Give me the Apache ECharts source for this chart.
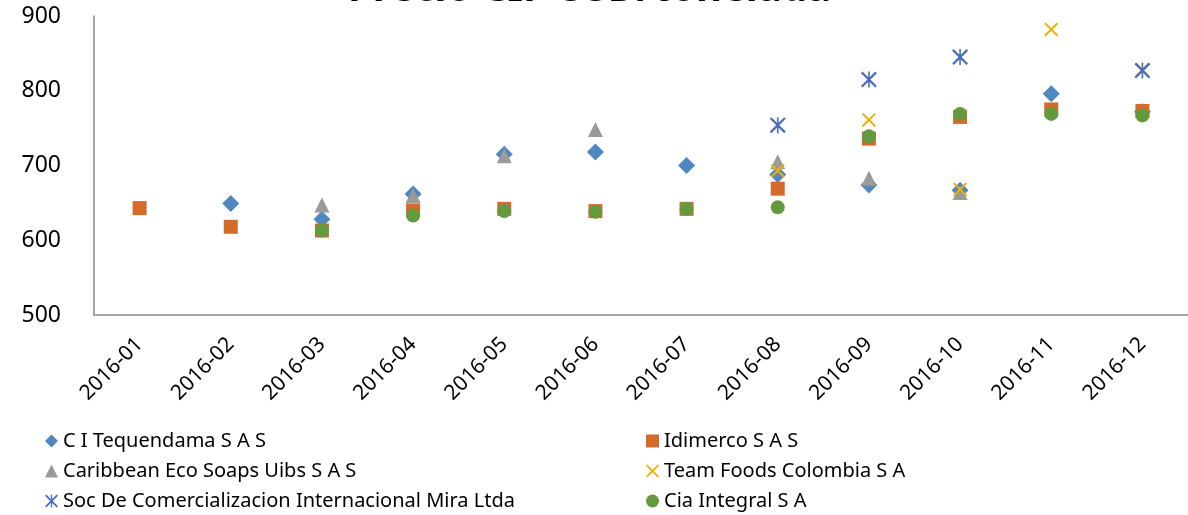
<!DOCTYPE html>
<html>
<head>
<meta charset="utf-8">
<script src="https://cdn.jsdelivr.net/npm/echarts@6/dist/echarts.min.js"></script>
<style>
  html, body { margin: 0; padding: 0; background: #fff; }
  #chart { width: 1188px; height: 515px; }
</style>
</head>
<body>
<div id="chart"></div>
<script>
// meses
const months = ['2016-01', '2016-02', '2016-03', '2016-04', '2016-05', '2016-06',
  '2016-07', '2016-08', '2016-09', '2016-10', '2016-11', '2016-12']

// precio CIF por empresa (USD/tonelada)
const tequendama = [null, 649, 628, 662, 715, 718, 700, 688, 674, 667, 796, 772]
const idimerco = [643, 618, 613, 640, 642, 639, 642, 669, 736, 765, 775, 773]
const caribbean = [null, null, 647, 660, 713, 748, null, 705, 683, 664, null, null]
const teamFoods = [null, null, null, null, null, null, null, 693, 761, 668, 882, 828]
const socMira = [null, null, null, null, null, null, null, 754, 815, 845, null, 827]
const ciaIntegral = [null, null, 613, 633, 639, 638, 642, 644, 739, 769, 769, 767]

const yTicks = [500, 600, 700, 800, 900]

const FONT = 'Noto Sans'

// simbolos X y asterisco
const xPath = 'path://M0,1L1,0L10,9L9,10ZM9,0L10,1L1,10L0,9Z'
const starPath = 'path://M0,1L1,0L10,9L9,10ZM9,0L10,1L1,10L0,9ZM4.5,0L5.5,0L5.5,10L4.5,10Z'

const chart = echarts.init(document.getElementById('chart'))

const mk = (name, data, symbol, size, color) => ({
  name,
  type: 'scatter',
  data,
  symbol,
  symbolSize: size,
  itemStyle: { color, opacity: 1 },
  emphasis: { disabled: true }
})

const legendStyle = {
  orient: 'vertical',
  top: 425,
  height: 200,
  itemWidth: 13,
  itemHeight: 13,
  itemGap: 8,
  textStyle: { fontFamily: FONT, fontSize: 20, lineHeight: 22, color: '#000' }
}

const option = {
  animation: false,
  title: {
    text: 'Precio CIF USD/tonelada',
    left: 343,
    top: -35,
    textStyle: { fontFamily: FONT, fontSize: 40, fontWeight: 'bold', color: '#000' }
  },
  grid: { left: 94, top: 16, width: 1108, height: 299 },
  xAxis: {
    type: 'category',
    data: months,
    boundaryGap: true,
    axisLine: { lineStyle: { color: '#898989', width: 1.5 } },
    axisTick: { show: false },
    axisLabel: { rotate: 45, margin: 26, fontFamily: FONT, fontSize: 21, color: '#000', interval: 0 }
  },
  yAxis: {
    type: 'value',
    min: yTicks[0],
    max: yTicks[yTicks.length - 1],
    interval: 100,
    splitLine: { show: false },
    axisLine: { show: true, lineStyle: { color: '#898989', width: 1.5 } },
    axisTick: { show: false },
    axisLabel: { margin: 33, fontFamily: FONT, fontSize: 23, color: '#000' }
  },
  legend: [
    Object.assign({
      data: ['C I Tequendama S A S', 'Caribbean Eco Soaps Uibs S A S', 'Soc De Comercializacion Internacional Mira Ltda'],
      left: 40
    }, legendStyle),
    Object.assign({
      data: ['Idimerco S A S', 'Team Foods Colombia S A', 'Cia Integral S A'],
      left: 641
    }, legendStyle)
  ],
  series: [
    mk('C I Tequendama S A S', tequendama, 'diamond', 17, '#4F88C0'),
    mk('Idimerco S A S', idimerco, 'rect', 14, '#D46B2B'),
    mk('Caribbean Eco Soaps Uibs S A S', caribbean, 'triangle', 15, '#9A9A9A'),
    mk('Team Foods Colombia S A', teamFoods, xPath, 14, '#EDB000'),
    mk('Soc De Comercializacion Internacional Mira Ltda', socMira, starPath, 16, '#4A6DC0'),
    mk('Cia Integral S A', ciaIntegral, 'circle', 14, '#649A3E')
  ]
}

chart.setOption(option)
</script>
</body>
</html>
